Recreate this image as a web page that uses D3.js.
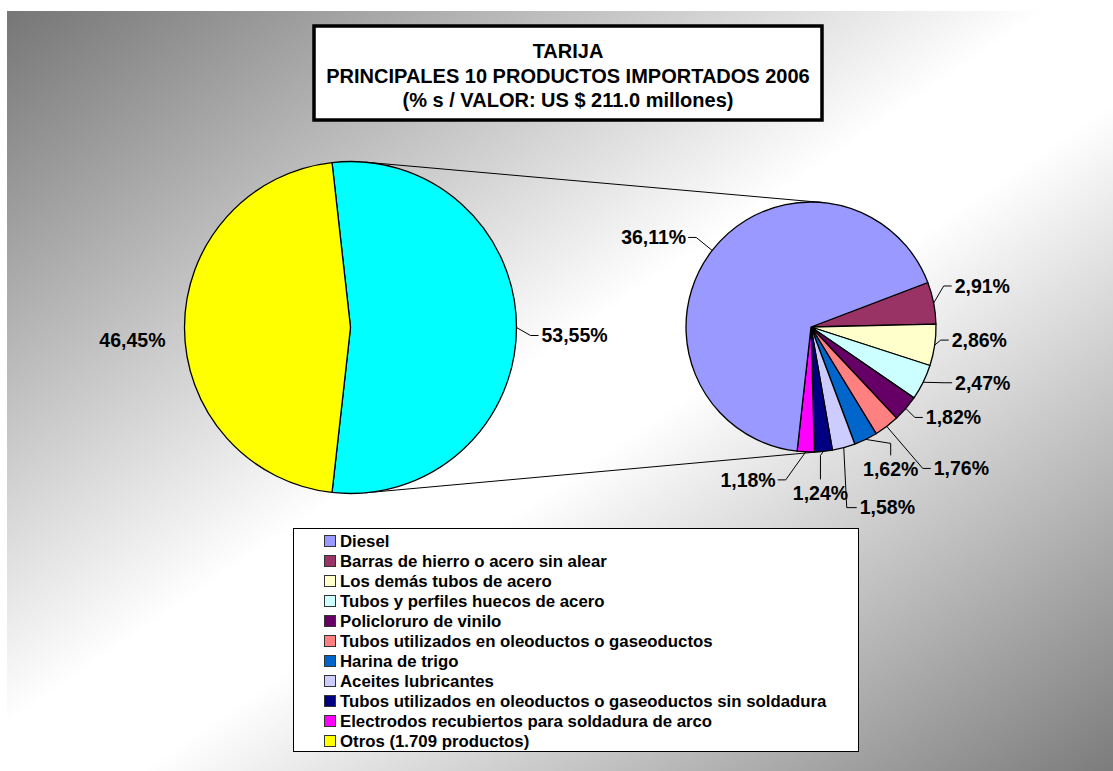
<!DOCTYPE html>
<html>
<head>
<meta charset="utf-8">
<script src="https://cdn.jsdelivr.net/npm/d3@7"></script>
<style>
  body { margin: 0; background: #fff; }
  svg { display: block; font-family: Arial, "Liberation Sans", sans-serif; font-weight: bold; }
</style>
</head>
<body>
<script>
// data (% of total imports value)
var products = [
  "Diesel",
  "Barras de hierro o acero sin alear",
  "Los demás tubos de acero",
  "Tubos y perfiles huecos de acero",
  "Policloruro de vinilo",
  "Tubos utilizados en oleoductos o gaseoductos",
  "Harina de trigo",
  "Aceites lubricantes",
  "Tubos utilizados en oleoductos o gaseoductos sin soldadura",
  "Electrodos recubiertos para soldadura de arco"
];
var shares = [36.11, 2.91, 2.86, 2.47, 1.82, 1.76, 1.62, 1.58, 1.24, 1.18];
var colors = ["#9999FF", "#993366", "#FFFFCC", "#CCFFFF", "#660066",
              "#FF8080", "#0066CC", "#CCCCFF", "#000080", "#FF00FF"];
var otrosLabel = "Otros (1.709 productos)";
var otrosShare = 46.45;
var otrosColor = "#FFFF00";
var groupColor = "#00FFFF";
var titleLines = [
  "TARIJA",
  "PRINCIPALES 10 PRODUCTOS IMPORTADOS 2006",
  "(% s / VALOR: US $ 211.0 millones)"
];

// label placement (offset from slice edge at mid angle), same order as products
var labelLayout = [
  {dx: -24, dy: -13, anchor: "end", kind: "h"},
  {dx: 18, dy: -17, anchor: "start", kind: "h"},
  {dx: 14, dy: -5, anchor: "start", kind: "h"},
  {dx: 29, dy: 0.5, anchor: "start", kind: "h"},
  {dx: 17, dy: 9, anchor: "start", kind: "h"},
  {dx: 44, dy: 42, anchor: "start", kind: "h"},
  {dx: 25, dy: 16, anchor: "middle", kind: "v"},
  {dx: 13, dy: 60, anchor: "start", kind: "vh"},
  {dx: -3, dy: 28, anchor: "middle", kind: "v"},
  {dx: -28, dy: 28, anchor: "end", kind: "h"}
];

var W = 1113, H = 771;
var fmt = function(v) { return v.toFixed(2).replace(".", ",") + "%"; };

var svg = d3.select("body").append("svg").attr("width", W).attr("height", H);

// background
var grad = svg.append("defs").append("linearGradient")
  .attr("id", "bg").attr("x1", 0).attr("y1", 0).attr("x2", 1).attr("y2", 1);
grad.append("stop").attr("offset", 0).attr("stop-color", "#767676");
grad.append("stop").attr("offset", 0.47).attr("stop-color", "#ffffff");
grad.append("stop").attr("offset", 0.56).attr("stop-color", "#ffffff");
grad.append("stop").attr("offset", 1).attr("stop-color", "#7c7c7c");
svg.append("rect").attr("x", 7).attr("y", 11).attr("width", W - 7).attr("height", H - 11)
  .attr("fill", "url(#bg)");

// title box
svg.append("rect").attr("x", 314).attr("y", 26).attr("width", 508).attr("height", 94)
  .attr("fill", "#fff").attr("stroke", "#000").attr("stroke-width", 3.5);
svg.append("g").selectAll("text").data(titleLines).join("text")
  .attr("x", 568).attr("y", (d, i) => 51 + i * 24.5).attr("dy", "0.35em")
  .attr("text-anchor", "middle").attr("font-size", 20).text(d => d);

// pies
var groupTotal = d3.sum(shares);
var total = groupTotal + otrosShare;
var groupAngle = groupTotal / total * 2 * Math.PI;
var half = (groupAngle - Math.PI) / 2;

var c1 = {x: 350.5, y: 327.5, r: 166};
var c2 = {x: 811, y: 327, r: 125};

var mainData = [{v: groupTotal, color: groupColor}, {v: otrosShare, color: otrosColor}];
var mainPie = d3.pie().sort(null).value(d => d.v)
  .startAngle(-half).endAngle(2 * Math.PI - half);
var arc1 = d3.arc().innerRadius(0).outerRadius(c1.r);

var smallOrder = d3.range(1, products.length).concat([0]);
var smallData = smallOrder.map(i => ({v: shares[i], color: colors[i], idx: i}));
var smallSweep = (groupTotal - shares[0]) / groupTotal * 2 * Math.PI;
var s0 = Math.PI + half - smallSweep;
var smallPie = d3.pie().sort(null).value(d => d.v)
  .startAngle(s0).endAngle(s0 + 2 * Math.PI);
var arc2 = d3.arc().innerRadius(0).outerRadius(c2.r);

// connector lines (outer tangents of both circles)
var dist = c2.x - c1.x;
var phi = Math.asin((c1.r - c2.r) / dist);
[-1, 1].forEach(function(s) {
  var ux = Math.sin(phi), uy = s * Math.cos(phi);
  svg.append("line")
    .attr("x1", c1.x + c1.r * ux).attr("y1", c1.y + c1.r * uy)
    .attr("x2", c2.x + c2.r * ux).attr("y2", c2.y + c2.r * uy)
    .attr("stroke", "#000").attr("stroke-width", 1);
});

var g1 = svg.append("g").attr("transform", `translate(${c1.x},${c1.y})`);
g1.selectAll("path").data(mainPie(mainData)).join("path")
  .attr("d", arc1).attr("fill", d => d.data.color)
  .attr("stroke", "#000").attr("stroke-width", 1.3).attr("stroke-linejoin", "round");

var g2 = svg.append("g").attr("transform", `translate(${c2.x},${c2.y})`);
var smallArcs = smallPie(smallData);
g2.selectAll("path").data(smallArcs).join("path")
  .attr("d", arc2).attr("fill", d => d.data.color)
  .attr("stroke", "#000").attr("stroke-width", 1.3).attr("stroke-linejoin", "round");

// labels
var labels = svg.append("g").attr("font-size", 19.5).attr("fill", "#000");

function edgePoint(c, a) {
  var m = (a.startAngle + a.endAngle) / 2;
  return [c.x + c.r * Math.sin(m), c.y - c.r * Math.cos(m)];
}

function drawLabel(E, lay, txt) {
  var T = [E[0] + lay.dx, E[1] + lay.dy];
  var pts = null, tx = T[0], ty = T[1];
  if (lay.kind === "h") {
    var el = [T[0] + (lay.anchor === "end" ? 8 : -8), T[1]];
    pts = [E, el, T];
    tx = lay.anchor === "end" ? T[0] - 2 : T[0] + 3;
  } else if (lay.kind === "vh") {
    pts = [E, [E[0] + 3, T[1]], T];
    tx = T[0] + 3;
  } else if (lay.kind === "v") {
    pts = [E, [T[0], E[1] + 4], T];
    ty = T[1] + 14;
  }
  if (pts) {
    labels.append("path").attr("d", d3.line()(pts))
      .attr("fill", "none").attr("stroke", "#000").attr("stroke-width", 1);
  }
  labels.append("text").attr("x", tx).attr("y", ty).attr("dy", "0.35em")
    .attr("text-anchor", lay.anchor).text(txt);
}

smallArcs.forEach(function(a) {
  drawLabel(edgePoint(c2, a), labelLayout[a.data.idx], fmt(a.data.v));
});
var mainArcs = mainPie(mainData);
drawLabel(edgePoint(c1, mainArcs[0]), {dx: 22, dy: 8, anchor: "start", kind: "h"}, fmt(groupTotal));
drawLabel(edgePoint(c1, mainArcs[1]), {dx: -19, dy: 12.5, anchor: "end", kind: "none"}, fmt(otrosShare));

// legend
var legendItems = products.map((p, i) => ({name: p, color: colors[i]}))
  .concat([{name: otrosLabel, color: otrosColor}]);
svg.append("rect").attr("x", 293.5).attr("y", 528.5).attr("width", 565).attr("height", 223)
  .attr("fill", "#fff").attr("stroke", "#000").attr("stroke-width", 1);
var lg = svg.append("g").selectAll("g").data(legendItems).join("g")
  .attr("transform", (d, i) => `translate(324, ${541 + i * 20})`);
lg.append("rect").attr("x", 0.5).attr("y", -5.5).attr("width", 11).attr("height", 11)
  .attr("fill", d => d.color).attr("stroke", "#333").attr("stroke-width", 1);
lg.append("text").attr("x", 16).attr("dy", "0.35em").attr("font-size", 16.8)
  .text(d => d.name);
</script>
</body>
</html>
